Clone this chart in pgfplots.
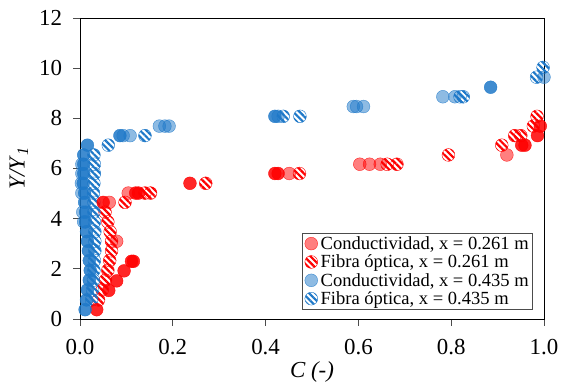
\documentclass[border=0pt]{standalone}
\usepackage{fontspec}
\setmainfont{Liberation Serif}
\usepackage{pgfplots}
\pgfplotsset{compat=1.18}
\usetikzlibrary{patterns.meta}
\definecolor{myred}{RGB}{255,0,0}
\definecolor{myblue}{RGB}{30,120,200}
\begin{document}
\begin{tikzpicture}
\begin{axis}[
  scale only axis, width=464bp, height=301bp,
  xmin=0, xmax=1, ymin=0, ymax=12,
  xtick={0,0.2,0.4,0.6,0.8,1.0}, ytick={0,2,4,6,8,10,12},
  tick pos=left, tick align=outside, major tick length=6.5bp,
  every tick/.style={black!70, line width=0.8pt},
  axis line style={line width=0.8pt},
  /pgf/number format/assume math mode=true,
  xticklabel style={/pgf/number format/fixed, /pgf/number format/fixed zerofill, /pgf/number format/precision=1, yshift=-10bp},
  yticklabel style={xshift=-8bp},
  tick label style={font=\fontsize{23}{26}\selectfont},
  xlabel={\textit{C (-)}}, ylabel={\textit{Y/Y}\textsubscript{\textit{1}}},
  label style={font=\fontsize{23}{26}\selectfont},
  xlabel style={yshift=0bp}, ylabel style={yshift=4bp},
  clip=false,
  legend style={at={(0.974,0.033)}, anchor=south east, font=\fontsize{18.6}{20}\selectfont,
    draw=black!70, inner sep=1pt, row sep=0pt, column sep=1pt},
  legend cell align=left,
  legend image code/.code={\path (-0.2cm,0cm); \draw[#1] plot coordinates {(0.08cm,0cm)};},
  condr/.style={only marks, mark=*, mark size=6.4bp, mark options={draw=myred, fill=myred, fill opacity=0.5, draw opacity=0.8}},
  condrd/.style={only marks, mark=*, mark size=6.4bp, mark options={draw=myred, fill=myred, fill opacity=0.85, draw opacity=0.9}},
  fibr/.style={only marks, mark=*, mark size=6.4bp, mark options={draw=myred, pattern={Lines[angle=-45,distance=4.5bp,line width=2.2bp]}, pattern color=myred}},
  condb/.style={only marks, mark=*, mark size=6.4bp, mark options={draw=myblue, fill=myblue, fill opacity=0.5, draw opacity=0.8}},
  condbd/.style={only marks, mark=*, mark size=6.4bp, mark options={draw=myblue, fill=myblue, fill opacity=0.85, draw opacity=0.9}},
  fibb/.style={only marks, mark=*, mark size=6.4bp, mark options={draw=myblue, pattern={Lines[angle=-45,distance=4.5bp,line width=2.2bp]}, pattern color=myblue}},
]
% Conductividad x=0.261 (light)
\addplot[condr] coordinates {
 (0.079,3.10) (0.063,4.65) (0.104,5.02) (0.451,5.80) (0.603,6.17) (0.624,6.17) (0.647,6.17) (0.920,6.54)
};
\addlegendentry{Conductividad, x = 0.261 m}
% Fibra optica x=0.261
\addplot[fibr] coordinates {
 (0.040,0.76) (0.048,1.16) (0.055,1.55) (0.060,1.94) (0.064,2.33) (0.068,2.72) (0.068,3.10) (0.065,3.48)
 (0.060,3.87) (0.054,4.26) (0.097,4.65) (0.140,5.02) (0.152,5.02) (0.271,5.41) (0.473,5.80) (0.662,6.17)
 (0.683,6.17) (0.794,6.54) (0.909,6.93) (0.937,7.31) (0.950,7.31) (0.977,7.69) (0.985,8.08)
};
\addlegendentry{Fibra óptica, x = 0.261 m}
% Conductividad x=0.435 (light)
\addplot[condb] coordinates {
 (0.004,5.02) (0.003,5.41) (0.004,5.80) (0.004,6.17) (0.006,4.26) (0.008,3.87)
 (0.093,7.31) (0.108,7.31) (0.171,7.69) (0.183,7.69) (0.192,7.69) (0.427,8.08)
 (0.589,8.47) (0.596,8.47) (0.611,8.47) (0.782,8.86) (0.808,8.86) (1.000,9.64)
};
\addlegendentry{Conductividad, x = 0.435 m}
% Fibra optica x=0.435
\addplot[fibb] coordinates {
 (0.025,0.76) (0.027,1.16) (0.029,1.55) (0.030,1.94) (0.031,2.33) (0.032,2.72) (0.032,3.10) (0.032,3.48)
 (0.031,3.87) (0.030,4.26) (0.030,4.65) (0.029,5.02) (0.030,5.41) (0.031,5.80) (0.031,6.17) (0.030,6.54)
 (0.061,6.93) (0.140,7.31) (0.438,8.08) (0.474,8.08) (0.819,8.86) (0.826,8.86) (0.984,9.64) (0.998,10.03)
};
\addlegendentry{Fibra óptica, x = 0.435 m}
% darker (second repetition) points
\addplot[condrd, forget plot] coordinates {
 (0.036,0.37) (0.062,1.14) (0.079,1.52) (0.095,1.92) (0.111,2.30) (0.115,2.30) (0.050,4.65)
 (0.120,5.02) (0.126,5.02) (0.237,5.41) (0.420,5.80) (0.427,5.80) (0.952,6.93) (0.959,6.93)
 (0.986,7.31) (0.992,7.69)
};
\addplot[condbd, forget plot] coordinates {
 (0.011,0.37) (0.014,0.76) (0.016,1.16) (0.020,1.55) (0.022,1.94) (0.020,2.33) (0.018,2.72)
 (0.016,3.10) (0.014,3.48) (0.012,3.87) (0.012,4.26) (0.010,4.65) (0.010,5.02) (0.007,5.41)
 (0.008,5.80) (0.008,6.17) (0.008,6.54) (0.016,6.93) (0.086,7.31) (0.420,8.08) (0.885,9.24)
};
\end{axis}
\pgfresetboundingbox
\path[use as bounding box] (-80bp,-66bp) rectangle (481bp,319bp);
\end{tikzpicture}
\end{document}
